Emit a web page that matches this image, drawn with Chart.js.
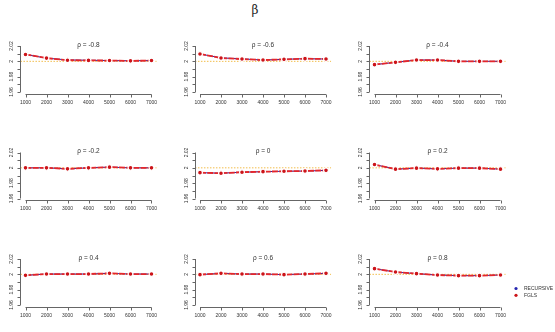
<!DOCTYPE html>
<html lang="en">
<head>
<meta charset="UTF-8">
<title>beta estimates</title>
<script src="https://cdn.jsdelivr.net/npm/chart.js"></script>
<style>
    body { margin: 0; background: #fff; }
    #wrap { position: relative; width: 555px; height: 332px; overflow: hidden; }
    #wrap canvas { position: absolute; left: 0; top: 0; }
    #title { position: absolute; left: 0; width: 510px; top: 3px; text-align: center;
             font: 12px "DejaVu Serif", serif; color: #222; }
</style>
</head>
<body>
<div id="wrap">
    <div id="title">β</div>
</div>
<script>
    // data
    const sampleSizes = [1000, 2000, 3000, 4000, 5000, 6000, 7000];
    const rhoValues = [-0.8, -0.6, -0.4, -0.2, 0, 0.2, 0.4, 0.6, 0.8];
    const trueBeta = 2;
    const yTicks = [1.96, 1.97, 1.98, 1.99, 2.00, 2.01, 2.02];
    const yTickLabels = ['1.96', '', '1.98', '', '2', '', '2.02'];
    const xTickLabels = ['1000', '2000', '3000', '4000', '5000', '6000', '7000'];
    const seriesNames = ['RECURSIVE', 'FGLS'];

    // one row per rho panel
    const fglsBeta = [
        [2.0090, 2.0042, 2.0015, 2.0012, 2.0010, 2.0006, 2.0010],
        [2.0096, 2.0043, 2.0030, 2.0017, 2.0026, 2.0035, 2.0030],
        [1.9957, 1.9987, 2.0017, 2.0017, 2.0000, 2.0000, 2.0000],
        [2.0000, 2.0000, 1.9987, 2.0000, 2.0009, 2.0000, 2.0000],
        [1.9937, 1.9930, 1.9943, 1.9950, 1.9955, 1.9958, 1.9967],
        [2.0043, 1.9983, 1.9996, 1.9987, 1.9996, 1.9996, 1.9983],
        [1.9987, 2.0004, 2.0004, 2.0004, 2.0013, 2.0004, 2.0004],
        [1.9996, 2.0013, 2.0004, 2.0004, 1.9996, 2.0004, 2.0013],
        [2.0074, 2.0030, 2.0009, 1.9991, 1.9983, 1.9983, 1.9991]
    ];
    const recursiveBeta = [
        [2.0090, 2.0042, 2.0018, 2.0014, 2.0010, 2.0008, 2.0010],
        [2.0096, 2.0045, 2.0032, 2.0017, 2.0026, 2.0035, 2.0030],
        [1.9957, 1.9987, 2.0017, 2.0017, 2.0000, 2.0000, 2.0000],
        [2.0000, 2.0000, 1.9987, 2.0000, 2.0009, 2.0000, 2.0000],
        [1.9937, 1.9930, 1.9943, 1.9950, 1.9955, 1.9958, 1.9967],
        [2.0043, 1.9983, 1.9996, 1.9987, 1.9996, 1.9996, 1.9983],
        [1.9987, 2.0004, 2.0004, 2.0004, 2.0013, 2.0004, 2.0004],
        [1.9996, 2.0013, 2.0004, 2.0004, 1.9996, 2.0004, 2.0013],
        [2.0074, 2.0030, 2.0009, 1.9991, 1.9983, 1.9983, 1.9991]
    ];

    // page layout (pixel position of x=1000 per column, of y=2.02 per row)
    const colX1000 = [25.5, 200, 374.5];
    const rowY202 = [46, 152.5, 259];
    const xSpanPx = 126;   // 1000 -> 7000
    const ySpanPx = 46;    // 1.96 -> 2.02

    const RED = '#e5262a';
    const RED_PT = '#cc1419';
    const BLUE = '#2626b0';
    const FONT = '"Liberation Sans", Arial, sans-serif';

    const panelAxes = {
        id: 'panelAxes',
        beforeDatasetsDraw(chart) {
            const { ctx, chartArea, scales: { y } } = chart;
            const yy = y.getPixelForValue(trueBeta);
            ctx.save();
            ctx.strokeStyle = '#f2bd4a';
            ctx.lineWidth = 1;
            ctx.setLineDash([1.5, 1.5]);
            ctx.beginPath();
            ctx.moveTo(chartArea.left, yy);
            ctx.lineTo(chartArea.right, yy);
            ctx.stroke();
            ctx.restore();
        },
        afterDraw(chart, args, opts) {
            const { ctx, chartArea, scales: { x, y } } = chart;
            const left = Math.round(chartArea.left) + 0.5;
            const bottom = Math.round(chartArea.bottom) + 0.5;
            ctx.save();
            ctx.strokeStyle = '#666';
            ctx.lineWidth = 1;
            ctx.fillStyle = '#333';

            // y axis
            const yA = y.getPixelForValue(yTicks[0]);
            const yB = y.getPixelForValue(yTicks[yTicks.length - 1]);
            ctx.beginPath();
            ctx.moveTo(left, yA); ctx.lineTo(left, yB);
            yTicks.forEach(v => {
                const p = Math.round(y.getPixelForValue(v)) + 0.5;
                ctx.moveTo(left - 3, p); ctx.lineTo(left, p);
            });
            ctx.stroke();
            ctx.font = '5px ' + FONT;
            ctx.textAlign = 'center';
            ctx.textBaseline = 'middle';
            yTicks.forEach((v, i) => {
                if (!yTickLabels[i]) return;
                ctx.save();
                ctx.translate(left - 9, y.getPixelForValue(v));
                ctx.rotate(-Math.PI / 2);
                ctx.fillText(yTickLabels[i], 0, 0);
                ctx.restore();
            });

            // x axis
            const xA = x.getPixelForValue(sampleSizes[0]);
            const xB = x.getPixelForValue(sampleSizes[sampleSizes.length - 1]);
            ctx.beginPath();
            ctx.moveTo(xA, bottom); ctx.lineTo(xB, bottom);
            sampleSizes.forEach(v => {
                const p = Math.round(x.getPixelForValue(v)) + 0.5;
                ctx.moveTo(p, bottom); ctx.lineTo(p, bottom + 3);
            });
            ctx.stroke();
            sampleSizes.forEach((v, i) => {
                ctx.fillText(xTickLabels[i], x.getPixelForValue(v), bottom + 8);
            });

            // panel title
            ctx.font = '6.5px ' + FONT;
            ctx.fillText(opts.title, (chartArea.left + chartArea.right) / 2, yB - 1);

            // legend (only on the last panel)
            if (opts.legend) {
                const items = [[seriesNames[0], BLUE], [seriesNames[1], RED_PT]];
                ctx.font = '5px ' + FONT;
                ctx.textAlign = 'left';
                items.forEach(([name, col], k) => {
                    const ly = 288.5 + k * 6.8;
                    ctx.fillStyle = col;
                    ctx.beginPath();
                    ctx.arc(516, ly, 1.6, 0, Math.PI * 2);
                    ctx.fill();
                    ctx.fillStyle = '#333';
                    ctx.fillText(name, 524, ly);
                });
            }
            ctx.restore();
        }
    };

    const wrap = document.getElementById('wrap');

    function makePanel(i) {
        const r = Math.floor(i / 3), c = i % 3;
        const canvas = document.createElement('canvas');
        canvas.width = 555;
        canvas.height = 332;
        wrap.appendChild(canvas);

        const xMin = 1000, xMax = 7000, yMin = 1.96, yMax = 2.02;
        const xPad = (xMax - xMin) * 0.04, yPad = (yMax - yMin) * 0.04;
        const pxX = xSpanPx / (xMax - xMin), pxY = ySpanPx / (yMax - yMin);
        const plotLeft = colX1000[c] - xPad * pxX;
        const plotRight = colX1000[c] + xSpanPx + xPad * pxX;
        const plotTop = rowY202[r] - yPad * pxY;
        const plotBottom = rowY202[r] + ySpanPx + yPad * pxY;

        const pts = arr => sampleSizes.map((n, k) => ({ x: n, y: arr[k] }));

        new Chart(canvas.getContext('2d'), {
            type: 'line',
            data: {
                datasets: [{
                    label: seriesNames[1],
                    data: pts(fglsBeta[i]),
                    borderColor: RED,
                    backgroundColor: RED_PT,
                    borderWidth: 1.8,
                    borderDash: [6, 1.2],
                    pointRadius: 2.4,
                    pointBorderWidth: 1.2,
                    pointBorderColor: '#fff',
                    pointBackgroundColor: RED_PT,
                    order: 0
                }, {
                    label: seriesNames[0],
                    data: pts(recursiveBeta[i]),
                    borderColor: BLUE,
                    backgroundColor: BLUE,
                    borderWidth: 1.0,
                    pointRadius: 1.8,
                    pointBorderWidth: 0,
                    pointBackgroundColor: BLUE,
                    order: 1
                }]
            },
            options: {
                responsive: false,
                animation: false,
                events: [],
                layout: {
                    padding: {
                        left: plotLeft,
                        right: 555 - plotRight,
                        top: plotTop,
                        bottom: 332 - plotBottom
                    }
                },
                scales: {
                    x: { type: 'linear', display: false, min: xMin - xPad, max: xMax + xPad },
                    y: { display: false, min: yMin - yPad, max: yMax + yPad }
                },
                plugins: {
                    legend: { display: false },
                    tooltip: { enabled: false },
                    panelAxes: { title: 'ρ = ' + rhoValues[i], legend: i === 8 }
                }
            },
            plugins: [panelAxes]
        });
    }

    rhoValues.forEach((_, i) => makePanel(i));
</script>
</body>
</html>
